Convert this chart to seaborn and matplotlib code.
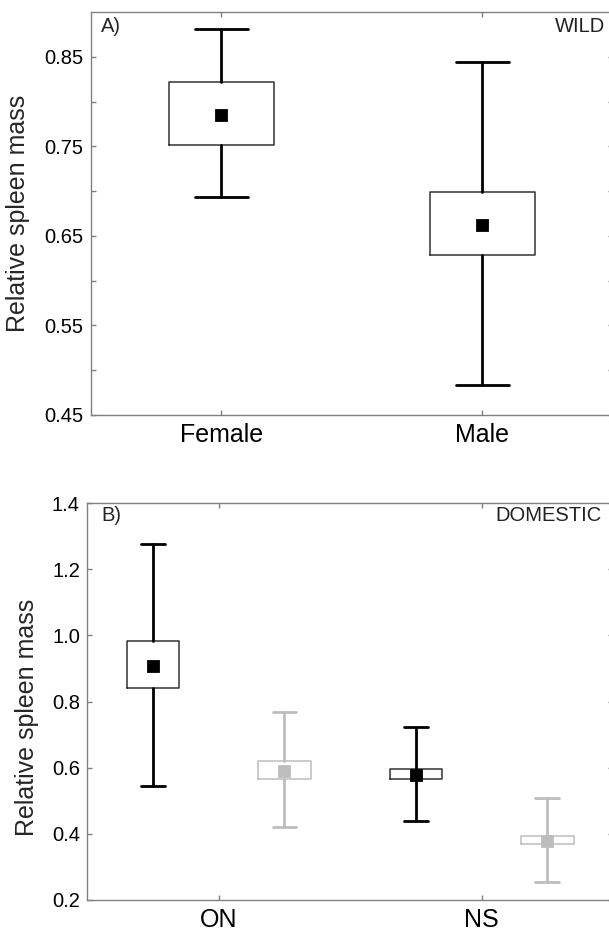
"""Relative spleen mass, wild vs domestic: mean, box and whisker per group."""

import matplotlib.pyplot as plt
import seaborn as sns
from matplotlib.ticker import FixedLocator, MultipleLocator

# panel A - wild
wild_sex = ["Female", "Male"]
wild_mean = [0.785, 0.662]
wild_box_lo = [0.751, 0.629]
wild_box_hi = [0.822, 0.699]
wild_whisk_lo = [0.693, 0.483]
wild_whisk_hi = [0.881, 0.844]

# panel B - domestic, two groups per site
dom_site = ["ON", "ON", "NS", "NS"]
dom_group = ["group 1", "group 2", "group 1", "group 2"]
dom_mean = [0.908, 0.590, 0.578, 0.379]
dom_box_lo = [0.842, 0.566, 0.566, 0.368]
dom_box_hi = [0.984, 0.620, 0.595, 0.395]
dom_whisk_lo = [0.546, 0.422, 0.438, 0.254]
dom_whisk_hi = [1.277, 0.768, 0.724, 0.509]

group_colors = {"group 1": "black", "group 2": "#bdbdbd"}
SPINE = "#808080"

sns.set_theme(style="ticks")
plt.rcParams["font.family"] = ["Liberation Sans", "DejaVu Sans"]

fig = plt.figure(figsize=(6.09, 9.33), dpi=100)
ax_a = fig.add_axes([0.1494, 0.5552, 0.857, 0.4319])
ax_b = fig.add_axes([0.1435, 0.0354, 0.863, 0.4252])


def draw_boxes(ax, xs, means, lo, hi, wlo, whi, colors, box_w, cap_w):
    """Draw box (lo-hi) and whiskers (wlo-whi) at given x positions."""
    for x, m, b0, b1, w0, w1, c in zip(xs, means, lo, hi, wlo, whi, colors):
        edge = "#333333" if c == "black" else c
        stats = [dict(med=m, q1=b0, q3=b1, whislo=w0, whishi=w1, fliers=[])]
        ax.bxp(
            stats,
            positions=[x],
            widths=box_w,
            capwidths=cap_w,
            showfliers=False,
            manage_ticks=False,
            boxprops=dict(color=edge, linewidth=1.1),
            whiskerprops=dict(color=c, linewidth=2.0),
            capprops=dict(color=c, linewidth=2.0),
            medianprops=dict(linewidth=0),
        )


def style_axes(ax):
    for sp in ax.spines.values():
        sp.set_visible(True)
        sp.set_color(SPINE)
        sp.set_linewidth(1.0)
    ax.tick_params(
        which="both", direction="in", length=3.5, width=1, color=SPINE,
        top=True, right=True, labelcolor="black",
    )
    ax.tick_params(axis="y", labelsize=14.5, pad=5.4)
    ax.tick_params(axis="x", labelsize=18, pad=6)
    ax.set_xlabel("")


# ---- panel A
sns.pointplot(
    x=wild_sex, y=wild_mean, color="black", markers="s", markersize=7,
    linestyle="none", errorbar=None, ax=ax_a,
)
draw_boxes(
    ax_a, [0, 1], wild_mean, wild_box_lo, wild_box_hi,
    wild_whisk_lo, wild_whisk_hi, ["black", "black"], 0.4, 0.2,
)
for ln in ax_a.lines[:1]:
    ln.set_zorder(5)
ax_a.set_xlim(-0.5, 1.5)
ax_a.set_ylim(0.45, 0.90)
ax_a.yaxis.set_major_locator(FixedLocator([0.45, 0.55, 0.65, 0.75, 0.85]))
ax_a.yaxis.set_minor_locator(FixedLocator([0.50, 0.60, 0.70, 0.80]))
ax_a.set_yticklabels(["0.45", "0.55", "0.65", "0.75", "0.85"])
style_axes(ax_a)
ax_a.set_ylabel("Relative spleen mass", fontsize=18)
ax_a.yaxis.set_label_coords(-0.117, 0.5)
ax_a.text(0.019, 0.963, "A)", transform=ax_a.transAxes, fontsize=14.5,
          va="center", ha="left")
ax_a.text(0.985, 0.963, "WILD", transform=ax_a.transAxes, fontsize=14.5,
          va="center", ha="right", color="#222222")

# ---- panel B
sns.pointplot(
    x=dom_site, y=dom_mean, hue=dom_group, palette=group_colors,
    markers="s", markersize=7, linestyle="none", errorbar=None,
    dodge=0.5, legend=False, ax=ax_b,
)
n_pts = len(ax_b.lines)
site_order = list(dict.fromkeys(dom_site))
group_order = list(dict.fromkeys(dom_group))
offsets = {g: -0.25 + 0.5 * i for i, g in enumerate(group_order)}
dom_x = [site_order.index(s) + offsets[g] for s, g in zip(dom_site, dom_group)]
draw_boxes(
    ax_b, dom_x, dom_mean, dom_box_lo, dom_box_hi, dom_whisk_lo,
    dom_whisk_hi, [group_colors[g] for g in dom_group], 0.2, 0.09,
)
for ln in ax_b.lines[:n_pts]:
    ln.set_zorder(5)
ax_b.set_xlim(-0.5, 1.5)
ax_b.set_ylim(0.2, 1.4)
ax_b.yaxis.set_major_locator(MultipleLocator(0.2))
ax_b.set_yticklabels([f"{v:.1f}" for v in ax_b.get_yticks()])
style_axes(ax_b)
ax_b.set_ylabel("Relative spleen mass", fontsize=18)
ax_b.yaxis.set_label_coords(-0.093, 0.46)
ax_b.text(0.026, 0.97, "B)", transform=ax_b.transAxes, fontsize=14.5,
          va="center", ha="left")
ax_b.text(0.979, 0.97, "DOMESTIC", transform=ax_b.transAxes, fontsize=14.5,
          va="center", ha="right", color="#222222")

fig.savefig("out.png", dpi=100)
